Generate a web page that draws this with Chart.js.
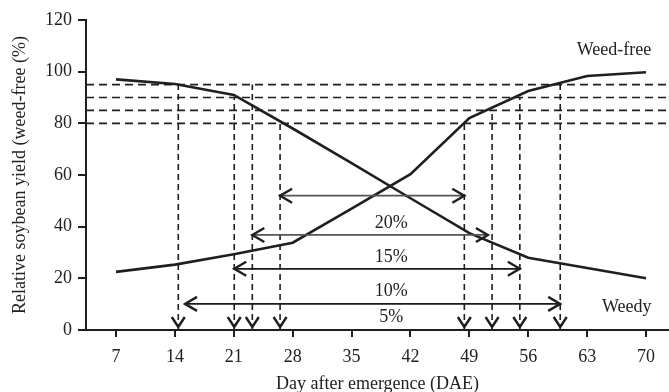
<!DOCTYPE html>
<html lang="en">
  <head>
    <meta charset="UTF-8">
    <title>Relative soybean yield</title>
    <script src="https://cdn.jsdelivr.net/npm/chart.js@4.4.7/dist/chart.umd.min.js"></script>
    <style>
    body { margin: 0; background: #fff; }
    canvas { display: block; }
    </style>
  </head>
  <body>
    <canvas id="yieldChart" width="669" height="392"></canvas>
    <script>
    // curves
    const days = [7, 14, 21, 28, 35, 42, 49, 56, 63, 70];
    const weedFree = [22.5, 25.3, 29.3, 33.8, 47, 60.3, 82, 92.5, 98.3, 99.8];
    const weedy = [97, 95.2, 91, 78, 64.6, 51, 37.5, 28, 24, 20];

    // yield loss levels (horizontal dashed lines)
    const levels = [95, 90, 85, 80];

    // critical period cut-offs (vertical dashed lines)
    const weedyCuts = [14.4, 21.05, 23.2, 26.5];
    const weedyCutTops = [95, 90, 95, 80];
    const freeCuts = [48.4, 51.7, 55, 59.8];
    const freeCutTops = [80, 85, 90, 95];

    // double arrows
    const lossLabels = ['5%', '10%', '15%', '20%'];
    const arrowStart = [15.2, 21.05, 23.2, 26.5];
    const arrowEnd = [59.8, 55, 51.2, 48.4];
    const arrowY = [10.1, 23.7, 36.8, 52];
    const arrowColors = ['#1a1a1a', '#1a1a1a', '#555', '#555'];
    const labelY = [4.8, 14.9, 28.3, 41.4];
    const labelX = 39.7;

    const xTicks = [7, 14, 21, 28, 35, 42, 49, 56, 63, 70];
    const yTicks = [0, 20, 40, 60, 80, 100, 120];
    const xMin = 3.43, xMax = 72.73;

    const ink = '#1f1f1f';
    const serif = 'Liberation Serif';

    const datasets = [
      { data: days.map((d, i) => ({x: d, y: weedFree[i]})), borderColor: ink, borderWidth: 2.6 },
      { data: days.map((d, i) => ({x: d, y: weedy[i]})), borderColor: ink, borderWidth: 2.6 }
    ];
    levels.forEach(l => {
      datasets.push({ data: [{x: xMin, y: l}, {x: xMax, y: l}], borderColor: ink, borderWidth: 1.6, borderDash: [8, 5] });
    });
    weedyCuts.forEach((c, i) => {
      datasets.push({ data: [{x: c, y: 0}, {x: c, y: weedyCutTops[i]}], borderColor: ink, borderWidth: 1.6, borderDash: [6, 4] });
    });
    freeCuts.forEach((c, i) => {
      datasets.push({ data: [{x: c, y: 0}, {x: c, y: freeCutTops[i]}], borderColor: ink, borderWidth: 1.6, borderDash: [6, 4] });
    });

    function chevron(ctx, x, y, dx1, dy1, dx2, dy2) {
      ctx.beginPath();
      ctx.moveTo(x + dx1, y + dy1);
      ctx.lineTo(x, y);
      ctx.lineTo(x + dx2, y + dy2);
      ctx.stroke();
    }

    const marks = {
      id: 'marks',
      afterDatasetsDraw(chart) {
        const ctx = chart.ctx;
        const xs = chart.scales.x, ys = chart.scales.y;
        ctx.save();
        ctx.lineCap = 'butt';
        ctx.lineJoin = 'miter';

        // horizontal double arrows
        arrowY.forEach((v, i) => {
          const y = ys.getPixelForValue(v);
          const x1 = xs.getPixelForValue(arrowStart[i]);
          const x2 = xs.getPixelForValue(arrowEnd[i]);
          ctx.strokeStyle = arrowColors[i];
          ctx.lineWidth = 1.8;
          ctx.beginPath();
          ctx.moveTo(x1, y);
          ctx.lineTo(x2, y);
          ctx.stroke();
          ctx.strokeStyle = ink;
          ctx.lineWidth = 2.4;
          chevron(ctx, x1, y, 12, -7, 12, 7);
          chevron(ctx, x2, y, -12, -7, -12, 7);
        });

        // down arrows on the axis
        const y0 = ys.getPixelForValue(0) - 3;
        weedyCuts.concat(freeCuts).forEach(c => {
          const x = xs.getPixelForValue(c);
          ctx.strokeStyle = ink;
          ctx.lineWidth = 2.4;
          chevron(ctx, x, y0, -6.5, -10, 6.5, -10);
        });

        // text
        ctx.fillStyle = '#222';
        ctx.font = '18px "' + serif + '"';
        ctx.textAlign = 'center';
        ctx.textBaseline = 'middle';
        lossLabels.forEach((t, i) => {
          ctx.fillText(t, xs.getPixelForValue(labelX), ys.getPixelForValue(labelY[i]));
        });
        ctx.fillText('Weed-free', xs.getPixelForValue(66.2), ys.getPixelForValue(108.4));
        ctx.fillText('Weedy', xs.getPixelForValue(67.7), ys.getPixelForValue(8.7));
        ctx.restore();
      }
    };

    const chart = new Chart(document.getElementById('yieldChart'), {
      type: 'line',
      data: { datasets: datasets },
      options: {
        responsive: false,
        animation: false,
        layout: { padding: { top: 20, right: 0, left: 0, bottom: 0 } },
        elements: { point: { radius: 0 }, line: { tension: 0 } },
        plugins: { legend: { display: false }, tooltip: { enabled: false } },
        scales: {
          x: {
            type: 'linear',
            min: xMin,
            max: xMax,
            afterBuildTicks: s => { s.ticks = xTicks.map(v => ({value: v})); },
            afterFit: s => { s.height = 62; },
            border: { display: true, color: ink, width: 2 },
            grid: { display: true, drawOnChartArea: false, drawTicks: true, tickLength: 7, color: ink, lineWidth: 2 },
            ticks: { autoSkip: false, maxRotation: 0, padding: 9, color: '#222', font: { family: serif, size: 18 } },
            title: {
              display: true,
              text: 'Day after emergence (DAE)',
              color: '#222',
              padding: { top: 0, bottom: 0 },
              font: { family: serif, size: 18, lineHeight: 0.85 }
            }
          },
          y: {
            min: 0,
            max: 120,
            afterBuildTicks: s => { s.ticks = yTicks.map(v => ({value: v})); },
            afterFit: s => { s.width = 86; },
            border: { display: true, color: ink, width: 2 },
            grid: { display: true, drawOnChartArea: false, drawTicks: true, tickLength: 8, color: ink, lineWidth: 2 },
            ticks: { padding: 6, color: '#222', font: { family: serif, size: 18 } },
            title: {
              display: true,
              text: 'Relative soybean yield (weed-free (%)',
              color: '#222',
              padding: { top: 9, bottom: 0 },
              font: { family: serif, size: 18 }
            }
          }
        }
      },
      plugins: [marks]
    });
    </script>
  </body>
</html>
